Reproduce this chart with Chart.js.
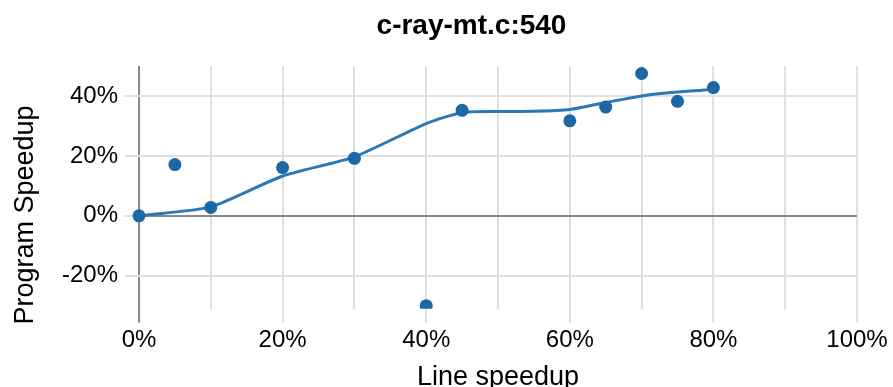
<!DOCTYPE html>
<html>
<head>
<meta charset="utf-8">
<title>c-ray-mt.c:540</title>
<script src="https://cdn.jsdelivr.net/npm/chart.js@4.4.1/dist/chart.umd.min.js"></script>
<style>
  html, body { margin: 0; padding: 0; background: #fff; }
  #wrap { width: 893px; height: 387px; }
</style>
</head>
<body>
<div id="wrap"><canvas id="chart" width="893" height="387"></canvas></div>
<script>
// Measured experiments: line speedup (%) -> program speedup (%)
const pointX = [0, 5, 10, 20, 30, 40, 45, 60, 65, 70, 75, 80];
const pointY = [0, 17.1, 2.8, 16.1, 19.2, -30, 35.2, 31.7, 36.3, 47.5, 38.2, 42.8];

// Smoothed trend through the measurements
const trendX = [0, 10, 20, 30, 40, 45, 50, 55, 60, 65, 70, 75, 80];
const trendY = [0, 3, 13.3, 19.7, 30.8, 34.5, 34.8, 34.9, 35.5, 37.8, 40.0, 41.3, 42.2];

// Axis ticks
const xTicks = [0, 10, 20, 30, 40, 50, 60, 70, 80, 90, 100];
const yTicks = [-20, 0, 20, 40];

const chartTitle = 'c-ray-mt.c:540';
const xTitle = 'Line speedup';
const yTitle = 'Program Speedup';

const FONT = "'Liberation Sans', Arial, Helvetica, sans-serif";
const GRID = '#e0e0e0';
const AXIS = '#8a8a8a';

const captions = {
  id: 'captions',
  afterDraw(chart) {
    const ctx = chart.ctx;
    const area = chart.chartArea;
    ctx.save();
    ctx.fillStyle = '#000';
    ctx.textAlign = 'center';
    ctx.textBaseline = 'alphabetic';
    ctx.font = 'bold 28px ' + FONT;
    ctx.fillText(chartTitle, 471.5, 34);
    ctx.font = '27px ' + FONT;
    ctx.fillText(xTitle, (area.left + area.right) / 2, 385);
    ctx.translate(33, 215);
    ctx.rotate(-Math.PI / 2);
    ctx.fillText(yTitle, 0, 0);
    ctx.restore();
  }
};

new Chart(document.getElementById('chart'), {
  type: 'scatter',
  data: {
    datasets: [
      {
        data: pointX.map((x, i) => ({ x, y: pointY[i] })),
        backgroundColor: '#1d68a4',
        borderColor: '#1d68a4',
        pointRadius: 6.5,
        pointHoverRadius: 6.5,
        borderWidth: 0,
        clip: { left: 10, right: 10, top: 10, bottom: 0 }
      },
      {
        data: trendX.map((x, i) => ({ x, y: trendY[i] })),
        showLine: true,
        borderColor: '#2a78b5',
        borderWidth: 3,
        pointRadius: 0,
        tension: 0.2,
        fill: false,
        clip: 10
      }
    ]
  },
  options: {
    responsive: false,
    devicePixelRatio: 1,
    animation: false,
    events: [],
    layout: { padding: { top: 66, right: 36, left: 0, bottom: 0 } },
    plugins: {
      legend: { display: false },
      title: { display: false },
      tooltip: { enabled: false }
    },
    scales: {
      x: {
        type: 'linear',
        min: 0,
        max: 100,
        afterBuildTicks: s => { s.ticks = xTicks.map(v => ({ value: v })); },
        afterFit: s => { s.height = 387 - 308.7; },
        border: { display: false },
        grid: {
          color: c => (c.tick && c.tick.value === 0 ? AXIS : GRID),
          lineWidth: 2,
          tickLength: 14,
          tickColor: c => (c.tick && c.tick.value % 20 !== 0 ? 'rgba(0,0,0,0)' : (c.tick.value === 0 ? AXIS : GRID))
        },
        ticks: {
          autoSkip: false,
          maxRotation: 0,
          padding: 3,
          color: '#000',
          font: { family: FONT, size: 24 },
          callback: v => (v % 20 === 0 ? v + '%' : '')
        }
      },
      y: {
        type: 'linear',
        min: -31,
        max: 50,
        afterBuildTicks: s => { s.ticks = yTicks.map(v => ({ value: v })); },
        afterFit: s => { s.width = 139; },
        border: { display: false },
        grid: {
          color: c => (c.tick && c.tick.value === 0 ? AXIS : GRID),
          lineWidth: 2,
          tickLength: 14,
          tickColor: GRID
        },
        ticks: {
          padding: 7,
          color: '#000',
          font: { family: FONT, size: 24 },
          callback: v => v + '%'
        }
      }
    }
  },
  plugins: [captions]
});
</script>
</body>
</html>
